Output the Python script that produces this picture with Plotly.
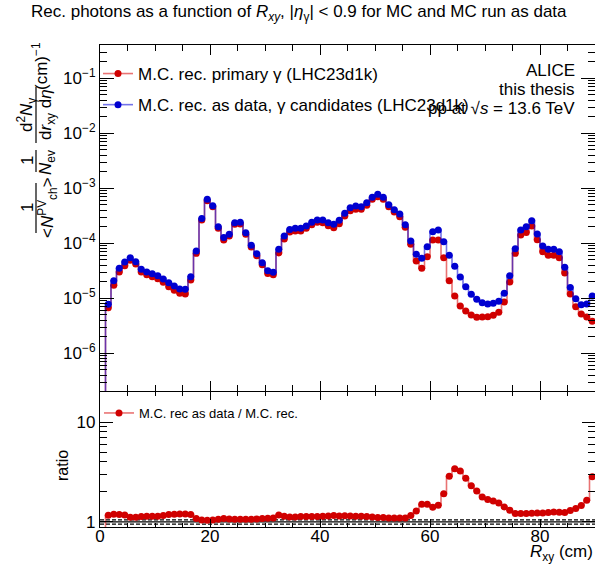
import numpy as np
import plotly.graph_objects as go

# ---------------------------------------------------------------------------
# Data: 1 cm bins in R_xy from 0 to 90 cm
# ---------------------------------------------------------------------------
rxy_edges = np.arange(0, 91, 1.0)
rxy_centres = 0.5 * (rxy_edges[:-1] + rxy_edges[1:])

# M.C. rec. primary gamma (LHC23d1k)
mc_primary = [
    0.0, 6.76e-6, 1.72e-5, 3.01e-5, 3.92e-5, 4.90e-5, 4.20e-5, 3.01e-5, 2.69e-5, 2.47e-5,
    2.27e-5, 1.95e-5, 1.63e-5, 1.40e-5, 1.23e-5, 1.20e-5, 2.15e-5, 6.57e-5, 2.65e-4, 5.96e-4,
    4.63e-4, 1.87e-4, 1.15e-4, 1.36e-4, 2.21e-4, 2.24e-4, 1.46e-4, 8.57e-5, 5.96e-5, 4.09e-5,
    2.84e-5, 2.69e-5, 6.67e-5, 1.20e-4, 1.60e-4, 1.67e-4, 1.67e-4, 1.87e-4, 2.18e-4, 2.41e-4,
    2.37e-4, 2.09e-4, 1.92e-4, 2.27e-4, 3.13e-4, 3.92e-4, 4.15e-4, 4.15e-4, 4.90e-4, 6.30e-4,
    7.05e-4, 6.30e-4, 4.63e-4, 3.71e-4, 3.05e-4, 1.95e-4, 9.57e-5, 4.77e-5, 3.51e-5, 5.71e-5,
    1.15e-4, 1.15e-4, 5.48e-5, 2.09e-5, 1.10e-5, 7.24e-6, 5.88e-6, 4.97e-6, 4.51e-6, 4.57e-6,
    4.63e-6, 4.90e-6, 5.56e-6, 8.57e-6, 1.98e-5, 6.57e-5, 1.42e-4, 1.58e-4, 2.06e-4, 1.16e-4,
    7.05e-5, 6.04e-5, 6.04e-5, 5.48e-5, 2.88e-5, 1.20e-5, 7.05e-6, 5.18e-6, 4.57e-6, 3.81e-6,
]

# M.C. rec. as data, gamma candidates (LHC23d1k)
mc_as_data = [
    0.0, 7.77e-6, 2.09e-5, 3.51e-5, 4.57e-5, 5.48e-5, 4.63e-5, 3.36e-5, 3.01e-5, 2.81e-5,
    2.58e-5, 2.24e-5, 1.92e-5, 1.67e-5, 1.48e-5, 1.46e-5, 2.47e-5, 7.24e-5, 2.81e-4, 6.30e-4,
    4.83e-4, 2.01e-4, 1.27e-4, 1.46e-4, 2.37e-4, 2.41e-4, 1.56e-4, 9.19e-5, 6.48e-5, 4.45e-5,
    3.18e-5, 2.97e-5, 7.77e-5, 1.36e-4, 1.79e-4, 1.87e-4, 1.87e-4, 2.06e-4, 2.41e-4, 2.65e-4,
    2.65e-4, 2.37e-4, 2.21e-4, 2.62e-4, 3.51e-4, 4.45e-4, 4.77e-4, 4.63e-4, 5.48e-4, 6.85e-4,
    7.77e-4, 6.85e-4, 5.04e-4, 4.09e-4, 3.41e-4, 2.18e-4, 1.10e-4, 6.30e-5, 5.33e-5, 8.69e-5,
    1.63e-4, 1.75e-4, 1.07e-4, 6.04e-5, 3.81e-5, 2.44e-5, 1.63e-5, 1.18e-5, 9.57e-6, 8.33e-6,
    7.87e-6, 8.10e-6, 8.81e-6, 1.23e-5, 2.58e-5, 7.98e-5, 1.75e-4, 2.01e-4, 2.58e-4, 1.48e-4,
    8.93e-5, 7.77e-5, 7.77e-5, 7.05e-5, 3.66e-5, 1.58e-5, 9.84e-6, 7.66e-6, 7.87e-6, 1.10e-5,
]

# M.C. rec as data / M.C. rec.
ratio_vals = [
    0.0, 1.167, 1.194, 1.185, 1.176, 1.114, 1.114, 1.132, 1.140, 1.140,
    1.140, 1.158, 1.185, 1.194, 1.203, 1.203, 1.185, 1.081, 1.048, 1.040,
    1.048, 1.064, 1.081, 1.072, 1.064, 1.064, 1.064, 1.064, 1.072, 1.081,
    1.089, 1.097, 1.176, 1.140, 1.123, 1.123, 1.132, 1.132, 1.132, 1.132,
    1.140, 1.149, 1.158, 1.149, 1.153, 1.149, 1.140, 1.140, 1.132, 1.123,
    1.106, 1.106, 1.097, 1.097, 1.097, 1.097, 1.158, 1.289, 1.503, 1.503,
    1.403, 1.469, 1.921, 2.864, 3.418, 3.237, 2.735, 2.310, 2.043, 1.780,
    1.674, 1.623, 1.550, 1.414, 1.309, 1.213, 1.213, 1.213, 1.222, 1.231,
    1.231, 1.241, 1.260, 1.250, 1.241, 1.299, 1.360, 1.458, 1.648, 2.842,
]

ratio_ref_levels = [0.95, 1.0, 1.05]

# ---------------------------------------------------------------------------
# Styling / geometry helpers
# ---------------------------------------------------------------------------
W, H = 595, 567
ML, MR, MT, MB = 100, 0, 45, 40
PW, PH = W - ML - MR, H - MT - MB
FONT = "Liberation Sans, Arial, Helvetica, sans-serif"
RED, BLUE = "#d00000", "#0000d0"
RED_LINE, BLUE_LINE = "rgba(215,0,0,0.55)", "rgba(0,0,215,0.55)"


def xp(px):
    return (px - ML) / PW


def yp(py):
    return (H - MB - py) / PH


def for_log(vals, floor):
    # empty bins are pushed below the visible range so the step edge drops out of frame
    return [v if v > 0 else floor for v in vals]


fig = go.Figure()

fig.add_trace(go.Scatter(
    x=rxy_centres, y=for_log(mc_primary, 1e-9), mode="lines+markers",
    line=dict(color=RED_LINE, width=1.6, shape="hvh"),
    marker=dict(color=RED, size=7, symbol="circle"),
    name="M.C. rec. primary γ (LHC23d1k)", legend="legend", legendgroup="a",
    xaxis="x", yaxis="y",
))
fig.add_trace(go.Scatter(
    x=rxy_centres, y=for_log(mc_as_data, 1e-9), mode="lines+markers",
    line=dict(color=BLUE_LINE, width=1.6, shape="hvh"),
    marker=dict(color=BLUE, size=7, symbol="circle"),
    name="M.C. rec. as data, γ candidates (LHC23d1k)", legend="legend", legendgroup="b",
    xaxis="x", yaxis="y",
))

# reference lines in the ratio pad
for lvl in ratio_ref_levels:
    fig.add_trace(go.Scatter(
        x=[rxy_edges[0], rxy_edges[-1]], y=[lvl, lvl], mode="lines",
        line=dict(color="black", width=1.3,
                  dash="solid" if lvl == 1.0 else "4px,2px"),
        showlegend=False, hoverinfo="skip", xaxis="x2", yaxis="y2",
    ))

fig.add_trace(go.Scatter(
    x=rxy_centres, y=for_log(ratio_vals, 1e-3), mode="lines+markers",
    line=dict(color=RED_LINE, width=1.6, shape="hvh"),
    marker=dict(color=RED, size=7, symbol="circle"),
    name="M.C. rec as data / M.C. rec.", legend="legend2",
    xaxis="x2", yaxis="y2",
))

# ---------------------------------------------------------------------------
# Axes
# ---------------------------------------------------------------------------
top_dec = [10.0 ** k for k in range(-6, 0)]
top_minor = [m * 10.0 ** k for k in range(-7, 0) for m in range(2, 10)]
bot_minor = [2, 3, 4, 5, 6, 7, 8, 9, 20]

axis_common = dict(showline=True, linecolor="black", linewidth=1.2, mirror="ticks",
                   showgrid=False, zeroline=False, ticks="inside", tickcolor="black",
                   tickwidth=1)

fig.update_layout(
    xaxis=dict(**axis_common, domain=[0, 1], anchor="y", range=[0, 90],
               tick0=0, dtick=20, ticklen=10, showticklabels=False,
               minor=dict(dtick=5, ticklen=6, ticks="inside", tickcolor="black",
                          showgrid=False)),
    yaxis=dict(**axis_common, domain=[yp(391), 1], anchor="x", type="log",
               range=[-6.685, -0.395], tickvals=top_dec,
               ticktext=[f"10<sup>−{-k}</sup>" for k in range(-6, 0)],
               ticklen=14, tickfont=dict(size=17, family=FONT, color="black"),
               minor=dict(tickvals=top_minor, ticklen=7, ticks="inside",
                          tickcolor="black", showgrid=False)),
    xaxis2=dict(**axis_common, domain=[0, 1], anchor="y2", range=[0, 90],
                tick0=0, dtick=20, ticklen=8, ticklabelstandoff=-7,
                tickfont=dict(size=17, family=FONT, color="black"),
                minor=dict(dtick=5, ticklen=4, ticks="inside", tickcolor="black",
                           showgrid=False)),
    yaxis2=dict(**axis_common, domain=[0, yp(392)], anchor="x2", type="log",
                range=[np.log10(0.89), np.log10(20)], tickvals=[1, 10],
                ticktext=["1", "10"], ticklen=13,
                tickfont=dict(size=17, family=FONT, color="black"),
                minor=dict(tickvals=bot_minor, ticklen=7, ticks="inside",
                           tickcolor="black", showgrid=False)),
)

# ---------------------------------------------------------------------------
# Legends
# ---------------------------------------------------------------------------
fig.update_layout(
    legend=dict(x=xp(98), y=yp(56), xanchor="left", yanchor="top",
                bgcolor="rgba(0,0,0,0)", font=dict(size=17, family=FONT, color="black"),
                tracegroupgap=6, itemwidth=30),
    legend2=dict(x=xp(99), y=yp(398), xanchor="left", yanchor="top",
                 bgcolor="rgba(0,0,0,0)", font=dict(size=13, family=FONT, color="black"),
                 itemwidth=30),
)

# ---------------------------------------------------------------------------
# Texts
# ---------------------------------------------------------------------------
ann = []


def text(t, px, py, size=17, angle=0, xanchor="center", yanchor="middle"):
    ann.append(dict(text=t, x=xp(px), y=yp(py), xref="paper", yref="paper",
                    showarrow=False, textangle=angle, xanchor=xanchor, yanchor=yanchor,
                    font=dict(size=size, family=FONT, color="black")))


text("Rec. photons as a function of <i>R</i><sub><i>xy</i></sub>, "
     "|<i>η</i><sub>γ</sub>| &lt; 0.9 for MC and MC run as data", 299, 13, size=17)

text("ALICE", 577, 70, size=17, xanchor="right")
text("this thesis", 577, 89, size=17, xanchor="right")
text("pp at √<i>s</i> = 13.6 TeV", 577, 108, size=17, xanchor="right")

text("<i>R</i><sub>xy</sub> (cm)", 595, 553, size=17, xanchor="right")
text("ratio", 62, 466, size=16, angle=-90)

# vertical axis title built from stacked fractions
text("(cm)<sup>−1</sup>", 40, 66, size=17, angle=-90)
text("d<sup>2</sup><i>N</i><sub>γ</sub>", 26, 115, size=17, angle=-90)
text("d<i>r</i><sub>xy</sub> d<i>η</i>", 47, 115, size=17, angle=-90)
text("1", 27, 161, size=17, angle=-90)
text("<i>N</i><sub>ev</sub>", 47, 163, size=17, angle=-90)
text("1", 27, 208, size=17, angle=-90)
text("&lt;<i>N</i><sup>PV</sup><sub>ch</sub>&gt;", 47, 208, size=17, angle=-90)

shapes = []
for (y0, y1) in [(87, 143), (150, 172), (183, 233)]:
    shapes.append(dict(type="line", xref="paper", yref="paper",
                       x0=xp(36), x1=xp(36), y0=yp(y0), y1=yp(y1),
                       line=dict(color="black", width=1.2)))

fig.update_layout(
    annotations=ann, shapes=shapes,
    width=W, height=H, margin=dict(l=ML, r=MR, t=MT, b=MB, pad=0),
    paper_bgcolor="white", plot_bgcolor="white",
    font=dict(family=FONT, color="black"),
)

fig.write_html("out.html")
